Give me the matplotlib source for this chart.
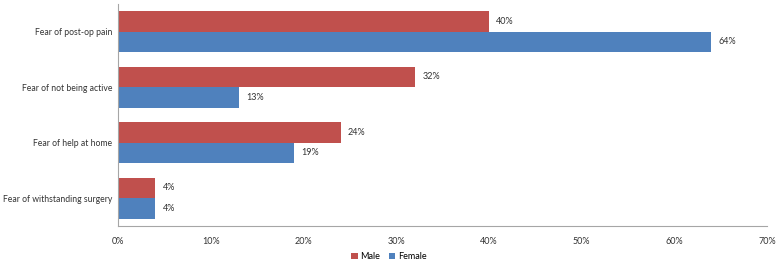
import matplotlib
matplotlib.use("Agg")
import matplotlib.pyplot as plt
import numpy as np

categories = ["Fear of post-op pain", "Fear of not being active", "Fear of help at home", "Fear of withstanding surgery"]
male = [40, 32, 24, 4]
female = [64, 13, 19, 4]
xticks = [0, 10, 20, 30, 40, 50, 60, 70]

plt.rcParams['font.family'] = ['Lato', 'DejaVu Sans']
fig = plt.figure(figsize=(7.78, 2.63), dpi=100)
ax = fig.add_axes([0.1517, 0.1407, 0.8343, 0.845])

n = len(categories)
pos = np.arange(n)[::-1].astype(float)
h = 0.37
red = "#C0504D"
blue = "#4F81BD"
ax.barh(pos + h/2, male, height=h, color=red, label="Male")
ax.barh(pos - h/2, female, height=h, color=blue, label="Female")

fs = 6.5
for p, v in zip(pos, male):
    ax.text(v + 0.8, p + h/2, f"{v}%", va="center", ha="left", fontsize=fs, color="#333333")
for p, v in zip(pos, female):
    ax.text(v + 0.8, p - h/2, f"{v}%", va="center", ha="left", fontsize=fs, color="#333333")

ax.set_xlim(0, 70)
ax.set_ylim(-0.5, n - 0.5)
ax.set_xticks(xticks)
ax.set_xticklabels([f"{t}%" for t in xticks], fontsize=fs, color="#333333")
ax.set_yticks(pos)
ax.set_yticklabels(categories, fontsize=6.2, color="#333333")
ax.tick_params(axis="y", length=0, pad=4)
ax.tick_params(axis="x", length=0, pad=8)
for s in ["top", "right"]:
    ax.spines[s].set_visible(False)
for s in ["left", "bottom"]:
    ax.spines[s].set_color("#A6A6A6")
    ax.spines[s].set_linewidth(0.8)

fig.legend(loc="center", bbox_to_anchor=(0.5, 0.025), ncol=2, frameon=False,
           fontsize=fs, handlelength=0.7, handleheight=0.7, handletextpad=0.3, columnspacing=1.0)
fig.savefig("out.png", dpi=100)
